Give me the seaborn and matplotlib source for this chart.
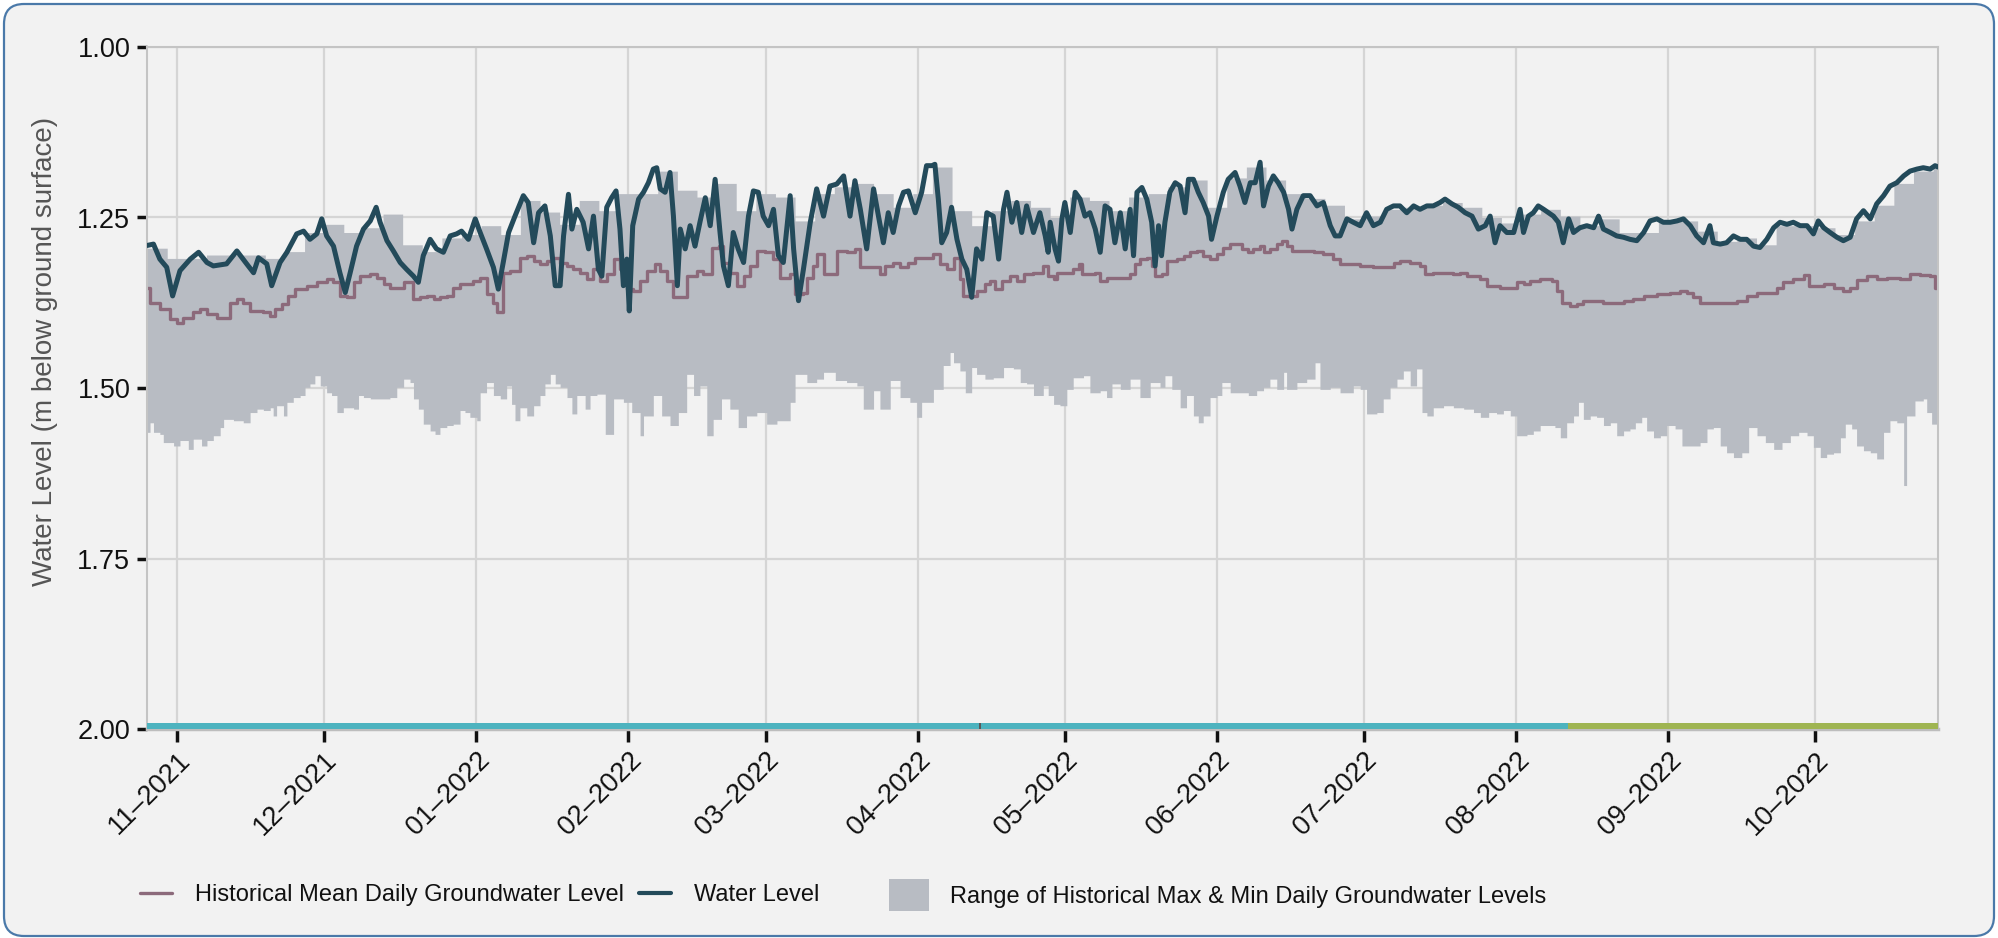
import numpy as np
import pandas as pd
import matplotlib
matplotlib.use("Agg")
import matplotlib.pyplot as plt
from matplotlib.patches import FancyBboxPatch, Patch
from matplotlib.lines import Line2D
from matplotlib.transforms import IdentityTransform
import seaborn as sns

# ---------------- data (days counted from 2021-11-01) ----------------
BASE = pd.Timestamp("2021-11-01")

# Water level (m below ground surface)
wl_day_a = [-6.1, -4.8, -3.5, -2.1, -0.9, 0.6, 2.7, 4.4, 6.1, 7.4,
            10.1, 12.2, 14.2, 15.6, 16.6, 18.3, 19.3, 21.0, 22.4, 24.4,
            25.8, 27.1, 28.5, 29.5, 30.5, 31.9, 33.2, 34.3, 35.3, 36.6,
            38.0, 39.4, 40.6, 41.4, 42.8, 44.1, 45.5, 46.8, 48.2, 49.2,
            50.2, 51.6, 52.9, 54.3, 55.7, 57.0, 58.0, 59.4, 60.8, 61.8,
            63.1, 64.5, 65.5, 66.5, 67.6, 68.9, 70.6, 71.6, 72.7, 73.7,
            75.0, 76.1, 77.1, 78.1, 78.8, 79.8, 80.5, 81.5, 82.8, 83.9,
            84.9, 85.9]
wl_val_a = [1.291, 1.289, 1.311, 1.323, 1.365, 1.328, 1.311, 1.301, 1.316, 1.321,
            1.318, 1.299, 1.318, 1.331, 1.309, 1.318, 1.350, 1.316, 1.301, 1.274,
            1.270, 1.282, 1.274, 1.252, 1.277, 1.292, 1.331, 1.360, 1.331, 1.292,
            1.267, 1.255, 1.235, 1.257, 1.284, 1.299, 1.316, 1.326, 1.336, 1.345,
            1.306, 1.282, 1.296, 1.301, 1.277, 1.274, 1.270, 1.282, 1.252, 1.272,
            1.296, 1.323, 1.355, 1.316, 1.272, 1.248, 1.218, 1.228, 1.287, 1.243,
            1.233, 1.277, 1.350, 1.350, 1.277, 1.216, 1.267, 1.238, 1.257, 1.296,
            1.248, 1.326]
wl_day_b = [86.6, 87.6, 88.6, 89.5, 90.3, 91.0, 91.7, 92.2, 92.9, 94.1,
            95.1, 96.1, 97.1, 97.8, 98.5, 99.5, 100.5, 101.2, 102.0, 102.6,
            103.6, 104.6, 105.6, 106.6, 107.7, 108.7, 109.7, 110.7, 111.4, 112.4,
            113.4, 114.4, 115.5, 116.5, 117.5, 118.5, 119.5, 120.6, 121.6, 122.6,
            123.6, 125.0, 125.7, 126.7, 127.7, 129.1, 130.4, 131.8, 133.1, 134.5,
            135.9, 137.2, 138.2, 139.3, 140.6, 142.0, 143.0, 144.0, 145.0, 146.0,
            147.1, 148.1, 149.1, 150.5, 151.8, 152.8, 153.9, 154.5, 155.2, 155.9,
            156.9, 157.9, 159.0, 160.0, 161.0, 162.0, 163.0, 164.1, 165.1, 166.4,
            167.5, 168.5, 169.2, 170.2, 171.2, 172.2, 173.2, 174.6, 175.9, 177.0,
            177.6]
wl_val_b = [1.336, 1.235, 1.221, 1.211, 1.267, 1.350, 1.311, 1.387, 1.262, 1.223,
            1.213, 1.199, 1.179, 1.177, 1.208, 1.213, 1.184, 1.248, 1.350, 1.267,
            1.296, 1.262, 1.292, 1.257, 1.221, 1.262, 1.194, 1.272, 1.321, 1.350,
            1.272, 1.296, 1.316, 1.248, 1.211, 1.213, 1.248, 1.262, 1.238, 1.306,
            1.316, 1.218, 1.296, 1.372, 1.326, 1.257, 1.208, 1.248, 1.204, 1.201,
            1.189, 1.248, 1.196, 1.238, 1.296, 1.208, 1.248, 1.287, 1.243, 1.272,
            1.233, 1.213, 1.211, 1.243, 1.213, 1.174, 1.174, 1.172, 1.223, 1.287,
            1.272, 1.235, 1.282, 1.311, 1.326, 1.367, 1.296, 1.311, 1.243, 1.248,
            1.311, 1.238, 1.213, 1.257, 1.228, 1.272, 1.233, 1.272, 1.243, 1.277,
            1.301]
wl_day_c = [178.0, 179.0, 179.7, 180.4, 181.0, 182.1, 183.1, 184.1, 185.1, 186.1,
            187.2, 188.2, 189.2, 190.2, 191.2, 192.3, 193.3, 194.3, 195.0, 195.7,
            196.7, 197.7, 198.7, 199.4, 200.1, 200.7, 201.4, 202.4, 203.5, 204.5,
            205.5, 206.2, 207.2, 208.2, 209.2, 210.3, 210.9, 212.0, 213.3, 214.3,
            215.7, 216.7, 217.7, 218.8, 219.8, 220.8, 221.5, 222.5, 223.5, 224.5,
            225.6, 226.6, 227.3, 228.3, 229.6, 231.0, 232.4, 233.7, 235.1, 236.1,
            237.1, 238.5, 239.8, 241.2, 242.5, 243.9, 245.3, 246.6, 248.0, 249.3,
            250.7, 252.1, 253.4, 254.8, 256.1, 257.5, 258.5, 259.9, 261.2, 262.6,
            264.0, 265.3, 266.7, 267.7, 268.7, 269.7]
wl_val_c = [1.257, 1.296, 1.314, 1.252, 1.228, 1.272, 1.213, 1.223, 1.248, 1.243,
            1.267, 1.301, 1.233, 1.238, 1.287, 1.243, 1.296, 1.238, 1.306, 1.213,
            1.206, 1.223, 1.257, 1.321, 1.262, 1.306, 1.257, 1.213, 1.199, 1.204,
            1.243, 1.194, 1.194, 1.213, 1.228, 1.248, 1.282, 1.248, 1.213, 1.194,
            1.184, 1.204, 1.228, 1.199, 1.199, 1.169, 1.233, 1.204, 1.189, 1.199,
            1.213, 1.238, 1.267, 1.238, 1.218, 1.218, 1.233, 1.228, 1.262, 1.277,
            1.277, 1.252, 1.257, 1.262, 1.243, 1.262, 1.257, 1.238, 1.233, 1.233,
            1.243, 1.233, 1.238, 1.233, 1.233, 1.228, 1.223, 1.230, 1.235, 1.243,
            1.248, 1.267, 1.262, 1.248, 1.287, 1.262]
wl_day_d = [271.1, 272.5, 273.8, 274.5, 275.5, 276.5, 277.5, 278.6, 279.6, 280.6,
            281.6, 282.6, 283.7, 284.7, 286.0, 287.4, 288.8, 289.8, 290.8, 292.2,
            293.5, 294.9, 296.2, 297.6, 299.0, 300.3, 301.7, 303.0, 304.4, 305.8,
            307.1, 308.5, 309.8, 311.2, 312.5, 313.2, 314.6, 315.9, 317.3, 318.7,
            320.0, 321.4, 322.7, 324.1, 325.5, 326.8, 328.2, 329.5, 330.9, 332.3,
            333.6, 334.6, 335.7, 337.0, 338.4, 339.7, 341.1, 342.4, 343.8, 345.2,
            346.5, 347.9, 349.2, 350.6, 352.0, 353.3, 354.7, 356.0, 357.4, 358.4,
            359.0]
wl_val_d = [1.272, 1.272, 1.238, 1.272, 1.248, 1.243, 1.233, 1.238, 1.243, 1.248,
            1.257, 1.287, 1.252, 1.272, 1.265, 1.262, 1.265, 1.248, 1.267, 1.272,
            1.277, 1.279, 1.282, 1.284, 1.272, 1.255, 1.252, 1.257, 1.257, 1.255,
            1.252, 1.262, 1.277, 1.287, 1.262, 1.287, 1.289, 1.287, 1.277, 1.282,
            1.282, 1.292, 1.294, 1.282, 1.265, 1.257, 1.260, 1.257, 1.262, 1.262,
            1.274, 1.255, 1.265, 1.272, 1.279, 1.284, 1.279, 1.252, 1.240, 1.252,
            1.230, 1.218, 1.204, 1.199, 1.189, 1.182, 1.179, 1.177, 1.179, 1.174,
            1.176]

# Historical mean daily groundwater level
mean_day_a = [-6.1, -5.5, -3.5, -1.4, -0.1, 1.3, 3.3, 4.7, 6.1, 8.1,
              9.8, 10.8, 12.2, 13.5, 14.9, 17.6, 19.0, 20.0, 21.3, 22.7,
              24.1, 26.4, 28.5, 30.5, 31.9, 33.2, 34.6, 36.0, 37.3, 39.4,
              40.7, 42.1, 43.4, 44.8, 46.2, 47.5, 48.2, 49.5, 50.9, 52.3,
              53.6, 55.0, 56.3, 57.7, 59.1, 60.4, 61.8, 63.1, 64.5, 65.2,
              65.9, 66.5, 67.9, 69.9, 71.3, 72.7, 74.0, 75.4, 76.7, 78.1,
              79.5, 80.8, 82.2, 83.5, 84.9]
mean_val_a = [1.353, 1.375, 1.384, 1.399, 1.404, 1.397, 1.389, 1.384, 1.392, 1.397,
              1.397, 1.375, 1.370, 1.375, 1.387, 1.389, 1.394, 1.384, 1.377, 1.365,
              1.355, 1.350, 1.345, 1.340, 1.345, 1.365, 1.367, 1.345, 1.336, 1.333,
              1.338, 1.348, 1.353, 1.353, 1.345, 1.345, 1.370, 1.367, 1.365, 1.370,
              1.367, 1.365, 1.353, 1.348, 1.348, 1.343, 1.338, 1.362, 1.375, 1.389,
              1.389, 1.331, 1.328, 1.309, 1.306, 1.314, 1.318, 1.314, 1.309, 1.316,
              1.321, 1.326, 1.331, 1.340, 1.326]
mean_day_b = [85.6, 86.2, 87.6, 89.0, 90.3, 91.7, 93.0, 94.4, 95.8, 97.5,
              98.5, 99.8, 101.2, 102.9, 103.9, 106.0, 107.3, 109.0, 110.4, 111.4,
              112.7, 114.1, 115.5, 116.8, 118.2, 119.9, 121.6, 122.9, 125.0, 126.0,
              127.7, 128.4, 129.7, 130.4, 131.8, 133.1, 134.5, 136.5, 138.2, 139.3,
              141.3, 143.3, 144.3, 146.0, 147.4, 149.1, 150.5, 152.2, 154.2, 155.6,
              156.9, 158.3, 159.6, 160.3, 162.0, 163.0, 164.7, 165.8, 166.8, 168.1,
              169.8, 171.2, 172.6, 174.6, 176.6, 177.6]
mean_val_b = [1.326, 1.343, 1.333, 1.311, 1.326, 1.355, 1.358, 1.343, 1.328, 1.318,
              1.328, 1.343, 1.367, 1.367, 1.336, 1.328, 1.333, 1.294, 1.292, 1.316,
              1.331, 1.350, 1.336, 1.321, 1.299, 1.301, 1.311, 1.338, 1.333, 1.362,
              1.360, 1.338, 1.321, 1.304, 1.333, 1.333, 1.299, 1.301, 1.296, 1.323,
              1.323, 1.333, 1.321, 1.316, 1.323, 1.316, 1.309, 1.309, 1.304, 1.318,
              1.326, 1.309, 1.340, 1.365, 1.365, 1.358, 1.348, 1.343, 1.355, 1.343,
              1.336, 1.343, 1.333, 1.331, 1.321, 1.336]
mean_day_c = [178.7, 179.3, 181.4, 182.7, 183.8, 184.4, 186.1, 187.2, 188.2, 189.5,
              192.3, 194.3, 195.3, 196.3, 197.7, 198.7, 199.4, 200.7, 201.8, 203.8,
              205.2, 206.5, 207.9, 209.2, 210.6, 212.0, 213.3, 214.7, 216.0, 217.1,
              218.4, 219.4, 220.8, 221.5, 222.8, 224.2, 225.2, 226.2, 227.3, 229.0,
              231.7, 233.7, 235.7, 237.1, 239.8, 241.2, 243.9, 246.6, 248.0, 249.3,
              251.4, 253.4, 254.4, 256.1, 258.9, 260.2, 261.6, 262.9, 265.7, 267.0,
              269.7]
mean_val_c = [1.340, 1.331, 1.331, 1.326, 1.318, 1.333, 1.333, 1.331, 1.343, 1.338,
              1.338, 1.333, 1.318, 1.311, 1.309, 1.321, 1.336, 1.333, 1.314, 1.311,
              1.306, 1.301, 1.299, 1.306, 1.311, 1.304, 1.294, 1.289, 1.289, 1.296,
              1.301, 1.296, 1.292, 1.301, 1.296, 1.289, 1.284, 1.292, 1.299, 1.299,
              1.301, 1.304, 1.311, 1.318, 1.318, 1.321, 1.323, 1.323, 1.316, 1.314,
              1.316, 1.321, 1.333, 1.331, 1.331, 1.333, 1.331, 1.336, 1.340, 1.350,
              1.353]
mean_day_d = [271.8, 273.1, 274.5, 275.9, 277.9, 279.2, 280.3, 281.3, 282.3, 284.0,
              285.4, 286.7, 288.8, 290.8, 292.8, 294.9, 296.9, 299.0, 301.7, 304.4,
              306.4, 307.8, 309.1, 310.5, 312.5, 315.3, 318.0, 320.0, 322.1, 324.1,
              326.1, 327.5, 329.5, 331.6, 332.6, 334.0, 335.7, 337.7, 339.7, 341.1,
              342.4, 344.5, 346.5, 348.6, 351.3, 353.3, 355.4, 357.4, 358.4, 359.0]
mean_val_d = [1.353, 1.345, 1.348, 1.343, 1.340, 1.340, 1.343, 1.358, 1.375, 1.380,
              1.377, 1.372, 1.372, 1.375, 1.376, 1.372, 1.370, 1.365, 1.362, 1.360,
              1.358, 1.360, 1.367, 1.375, 1.375, 1.376, 1.372, 1.365, 1.361, 1.360,
              1.354, 1.345, 1.340, 1.335, 1.350, 1.351, 1.347, 1.354, 1.358, 1.354,
              1.342, 1.336, 1.340, 1.338, 1.340, 1.333, 1.334, 1.336, 1.354, 1.354]

# Historical daily maximum depth (lower edge of the range band)
lo_day_a = [-6.1, -5.5, -4.8, -3.5, -2.8, -0.7, 0.6, 2.3, 3.3, 5.0,
            6.1, 7.4, 8.8, 9.5, 11.5, 13.5, 14.9, 16.3, 17.6, 19.0,
            19.6, 20.3, 21.7, 22.4, 23.7, 25.1, 26.1, 27.1, 28.1, 29.2,
            30.5, 31.5, 32.6, 33.9, 36.0, 37.0, 38.0, 39.4, 41.4, 43.4,
            44.8, 46.2, 47.5, 48.2, 49.2, 50.2, 51.6, 52.6, 53.6, 55.0,
            56.3, 57.7, 58.7, 59.7, 61.1, 61.8, 63.1, 64.5, 65.9, 67.2,
            68.2, 68.9, 69.9, 71.3, 72.7, 74.0, 75.0, 76.1, 77.1, 78.1,
            79.5, 80.5, 81.5, 83.2, 84.2, 85.6]
lo_val_a = [1.565, 1.551, 1.565, 1.568, 1.580, 1.585, 1.577, 1.590, 1.575, 1.585,
            1.577, 1.570, 1.558, 1.546, 1.548, 1.551, 1.536, 1.531, 1.533, 1.529,
            1.541, 1.526, 1.541, 1.521, 1.514, 1.511, 1.499, 1.494, 1.482, 1.497,
            1.507, 1.511, 1.536, 1.529, 1.531, 1.511, 1.514, 1.516, 1.516, 1.514,
            1.499, 1.487, 1.492, 1.516, 1.531, 1.553, 1.563, 1.568, 1.558, 1.555,
            1.553, 1.533, 1.536, 1.543, 1.548, 1.507, 1.492, 1.511, 1.516, 1.497,
            1.524, 1.548, 1.529, 1.541, 1.526, 1.511, 1.494, 1.480, 1.494, 1.499,
            1.514, 1.538, 1.511, 1.531, 1.511, 1.509]
lo_day_b = [87.3, 89.0, 91.0, 92.7, 94.4, 95.1, 97.1, 98.8, 100.5, 102.2,
            103.9, 105.3, 106.6, 108.0, 109.3, 111.0, 112.7, 114.4, 116.1, 118.2,
            120.2, 122.3, 125.0, 126.0, 128.4, 130.4, 131.8, 134.2, 136.5, 138.6,
            139.9, 142.0, 143.3, 145.4, 147.4, 149.4, 150.8, 151.8, 154.2, 156.2,
            157.6, 158.3, 159.6, 160.7, 162.0, 163.0, 164.7, 166.4, 168.5, 170.5,
            171.9, 173.2, 174.6, 176.6, 177.6]
lo_val_b = [1.568, 1.516, 1.521, 1.536, 1.570, 1.541, 1.511, 1.541, 1.555, 1.536,
            1.480, 1.511, 1.497, 1.570, 1.546, 1.516, 1.531, 1.558, 1.541, 1.536,
            1.553, 1.548, 1.521, 1.480, 1.492, 1.487, 1.477, 1.489, 1.492, 1.497,
            1.531, 1.504, 1.531, 1.489, 1.514, 1.521, 1.543, 1.521, 1.502, 1.467,
            1.448, 1.463, 1.475, 1.507, 1.470, 1.480, 1.487, 1.485, 1.470, 1.472,
            1.492, 1.494, 1.511, 1.497, 1.511]
lo_day_c = [178.7, 180.0, 181.4, 182.7, 184.8, 186.1, 188.2, 189.5, 190.6, 192.3,
            194.3, 196.3, 198.4, 200.4, 201.4, 202.8, 204.5, 205.8, 207.2, 208.2,
            209.2, 210.6, 212.0, 213.0, 214.7, 216.7, 218.4, 220.1, 221.5, 222.8,
            224.2, 225.6, 226.2, 228.3, 230.3, 232.0, 233.0, 235.1, 237.1, 239.8,
            241.2, 242.5, 244.6, 245.9, 247.3, 248.7, 250.0, 251.4, 252.7, 253.8,
            254.8, 256.1, 258.2, 260.2, 262.3, 264.3, 265.7, 267.4, 269.0]
lo_val_c = [1.524, 1.526, 1.502, 1.485, 1.482, 1.507, 1.504, 1.514, 1.494, 1.502,
            1.487, 1.514, 1.492, 1.499, 1.482, 1.502, 1.529, 1.511, 1.541, 1.551,
            1.541, 1.514, 1.511, 1.492, 1.507, 1.507, 1.511, 1.504, 1.499, 1.487,
            1.502, 1.477, 1.502, 1.492, 1.487, 1.463, 1.502, 1.499, 1.507, 1.497,
            1.502, 1.538, 1.536, 1.516, 1.499, 1.487, 1.475, 1.497, 1.472, 1.536,
            1.541, 1.529, 1.526, 1.529, 1.531, 1.536, 1.543, 1.536, 1.538]
lo_day_d = [270.4, 271.8, 273.1, 275.2, 276.5, 277.9, 279.6, 280.9, 282.0, 283.3,
            284.7, 285.7, 286.7, 288.1, 289.4, 290.8, 292.2, 293.5, 294.9, 296.2,
            297.3, 298.6, 299.6, 301.0, 302.4, 303.7, 305.4, 306.8, 308.5, 310.5,
            311.9, 313.2, 314.6, 315.9, 317.3, 319.0, 320.4, 322.1, 323.8, 325.5,
            327.2, 328.9, 330.6, 332.3, 333.6, 335.0, 336.3, 337.7, 339.1, 340.1,
            341.4, 342.4, 343.8, 345.2, 346.5, 347.9, 349.2, 350.6, 352.0, 352.6,
            354.3, 356.0, 356.7, 357.7, 359.0]
lo_val_d = [1.533, 1.541, 1.570, 1.568, 1.563, 1.555, 1.555, 1.558, 1.573, 1.551,
            1.541, 1.521, 1.546, 1.541, 1.543, 1.555, 1.551, 1.570, 1.563, 1.560,
            1.551, 1.543, 1.563, 1.573, 1.570, 1.555, 1.560, 1.585, 1.585, 1.580,
            1.560, 1.558, 1.585, 1.595, 1.602, 1.595, 1.558, 1.570, 1.580, 1.590,
            1.580, 1.570, 1.565, 1.570, 1.587, 1.602, 1.597, 1.595, 1.573, 1.553,
            1.560, 1.585, 1.592, 1.595, 1.604, 1.565, 1.548, 1.551, 1.643, 1.541,
            1.519, 1.516, 1.536, 1.553, 1.553]

# Historical daily minimum depth (upper edge of the range band)
up_day = [-6.1, -2, 2, 6, 10, 14, 18, 22, 26, 30, 34, 38, 42, 46, 50, 54, 58, 62,
          66, 70, 74, 78, 82, 86, 90, 94, 98, 102, 106, 110, 114, 118, 122, 126,
          130, 134, 138, 142, 146, 150, 154, 158, 162, 166, 170, 174, 178, 182,
          186, 190, 194, 198, 202, 206, 210, 214, 218, 222, 226, 230, 234, 238,
          242, 246, 250, 254, 258, 262, 266, 270, 274, 278, 282, 286, 290, 294,
          298, 302, 306, 310, 314, 318, 322, 326, 330, 334, 338, 342, 346, 350,
          354, 358, 359]
up_val = [1.295, 1.310, 1.310, 1.305, 1.305, 1.305, 1.310, 1.300, 1.272, 1.260,
          1.272, 1.265, 1.245, 1.290, 1.300, 1.280, 1.275, 1.262, 1.275, 1.225,
          1.242, 1.260, 1.225, 1.240, 1.215, 1.215, 1.182, 1.210, 1.220, 1.200,
          1.240, 1.215, 1.220, 1.255, 1.215, 1.205, 1.200, 1.215, 1.235, 1.215,
          1.176, 1.240, 1.262, 1.240, 1.225, 1.235, 1.250, 1.220, 1.225, 1.240,
          1.220, 1.215, 1.205, 1.195, 1.235, 1.192, 1.176, 1.195, 1.215, 1.222,
          1.232, 1.252, 1.248, 1.238, 1.235, 1.232, 1.228, 1.235, 1.250, 1.258,
          1.245, 1.238, 1.248, 1.262, 1.252, 1.272, 1.272, 1.255, 1.255, 1.270,
          1.285, 1.280, 1.290, 1.262, 1.262, 1.265, 1.275, 1.255, 1.232, 1.200,
          1.182, 1.176, 1.176]

# Data grade bar along the bottom
grade_start = [-6.12, 163.4, 164.0, 283.6]
grade_end = [163.4, 164.0, 283.6, 359.0]
grade_name = ["good", "gap", "good", "fair"]

# Axis ticks / labels
y_ticks = [1.00, 1.25, 1.50, 1.75, 2.00]
x_tick_dates = ["2021-11-01", "2021-12-01", "2022-01-01", "2022-02-01", "2022-03-01",
                "2022-04-01", "2022-05-01", "2022-06-01", "2022-07-01", "2022-08-01",
                "2022-09-01", "2022-10-01"]
x_tick_labels = ["11–2021", "12–2021", "01–2022", "02–2022", "03–2022", "04–2022",
                 "05–2022", "06–2022", "07–2022", "08–2022", "09–2022", "10–2022"]
x_range_days = [-6.12, 359.0]

# ---------------- styling ----------------
C_WATER = "#234a5a"
C_MEAN = "#8c6a7b"
C_RANGE = "#b8bcc3"
C_BG = "#f2f2f2"
C_GRID = "#d5d5d5"
GRADE_COLORS = {"good": "#4db3bf", "gap": "#5a5a5a", "fair": "#9fb552"}


def to_dates(days):
    return BASE + pd.to_timedelta(np.asarray(days, dtype=float), unit="D")


wl_day = wl_day_a + wl_day_b + wl_day_c + wl_day_d
wl_val = wl_val_a + wl_val_b + wl_val_c + wl_val_d
mean_day = mean_day_a + mean_day_b + mean_day_c + mean_day_d
mean_val = mean_val_a + mean_val_b + mean_val_c + mean_val_d
lo_day = lo_day_a + lo_day_b + lo_day_c + lo_day_d
lo_val = lo_val_a + lo_val_b + lo_val_c + lo_val_d
assert len(wl_day) == len(wl_val)
assert len(mean_day) == len(mean_val)
assert len(lo_day) == len(lo_val)
assert len(up_day) == len(up_val)

water = pd.DataFrame({"date": to_dates(wl_day), "level": wl_val})
mean = pd.DataFrame({"date": to_dates(mean_day), "level": mean_val})

lo_df = pd.DataFrame({"day": np.asarray(lo_day, float), "lo": lo_val}).sort_values("day")
up_df = pd.DataFrame({"day": np.asarray(up_day, float), "up": up_val}).sort_values("day")
grid_days = pd.DataFrame({"day": np.unique(np.concatenate([lo_df.day.values, up_df.day.values]))})
band = pd.merge_asof(grid_days, lo_df, on="day")
band = pd.merge_asof(band, up_df, on="day")

sns.set_theme(style="white")
plt.rcParams["font.family"] = ["Liberation Sans", "DejaVu Sans"]

W, H = 1999, 938
fig = plt.figure(figsize=(W / 100, H / 100), dpi=100)
fig.patch.set_facecolor("white")
panel = FancyBboxPatch((4, 2), W - 9, H - 6,
                       boxstyle="round,pad=0,rounding_size=20",
                       transform=IdentityTransform(),
                       facecolor=C_BG, edgecolor="#4a79a9", linewidth=1.6, zorder=-10)
fig.patches.append(panel)

L, R, T, B = 147, 1938, 47, 729
ax = fig.add_axes([L / W, 1 - B / H, (R - L) / W, (B - T) / H])
ax.set_facecolor(C_BG)

# range band
ax.fill_between(to_dates(band.day), band.up, band.lo, step="post",
                color=C_RANGE, linewidth=0, zorder=1)

# mean (step) and water level
sns.lineplot(data=mean, x="date", y="level", ax=ax, color=C_MEAN, linewidth=2.4,
             drawstyle="steps-post", zorder=2)
sns.lineplot(data=water, x="date", y="level", ax=ax, color=C_WATER, linewidth=3.6,
             zorder=3)

# grade bar
for s, e, g in zip(grade_start, grade_end, grade_name):
    ax.fill_between(to_dates([s, e]), 1.9905, 2.0, color=GRADE_COLORS[g],
                    linewidth=0, zorder=4)

ax.set_ylim(2.0, 1.0)
ax.set_xlim(to_dates(x_range_days))
ax.set_yticks(y_ticks)
ax.set_yticklabels([f"{v:.2f}" for v in y_ticks])
ax.set_xticks(pd.to_datetime(x_tick_dates))
ax.set_xticklabels(x_tick_labels, rotation=45, ha="right", rotation_mode="anchor")
ax.set_xlabel("")
ax.set_ylabel("Water Level (m below ground surface)", fontsize=20, color="#555555")
ax.yaxis.set_label_coords(-0.0497, 0.553)

ax.grid(True, color=C_GRID, linewidth=1.6)
ax.set_axisbelow(True)
for side in ["left", "top", "right"]:
    ax.spines[side].set_color("#c4c4c4")
    ax.spines[side].set_linewidth(1.5)
ax.spines["bottom"].set_color("#bdbdbd")
ax.spines["bottom"].set_linewidth(2.5)
ax.tick_params(axis="y", direction="out", length=7, width=2.5, color="#111111",
               labelsize=19.5, labelcolor="#111111", pad=5, left=True)
ax.tick_params(axis="x", direction="out", length=9, width=2.5, color="#111111",
               labelsize=19.5, labelcolor="#111111", pad=4, bottom=True)

# legends
h1 = [Line2D([], [], color=C_MEAN, linewidth=2.4), Line2D([], [], color=C_WATER, linewidth=3.0)]
leg1 = fig.legend(h1, ["Historical Mean Daily Groundwater Level", "Water Level"],
                  loc="center left", bbox_to_anchor=(140 / W, 1 - 895 / H), ncol=2,
                  frameon=False, fontsize=17, handlelength=1.35, handletextpad=1.0,
                  columnspacing=0.6, borderpad=0, borderaxespad=0)
h2 = [Patch(facecolor=C_RANGE, edgecolor="none")]
leg2 = fig.legend(h2, ["Range of Historical Max & Min Daily Groundwater Levels"],
                  loc="center left", bbox_to_anchor=(889 / W, 1 - 895 / H),
                  frameon=False, fontsize=17, handlelength=1.7, handleheight=1.7,
                  handletextpad=0.9, borderpad=0, borderaxespad=0)
for lg in (leg1, leg2):
    for t in lg.get_texts():
        t.set_color("#111111")

fig.savefig("out.png", dpi=100, facecolor="white")
